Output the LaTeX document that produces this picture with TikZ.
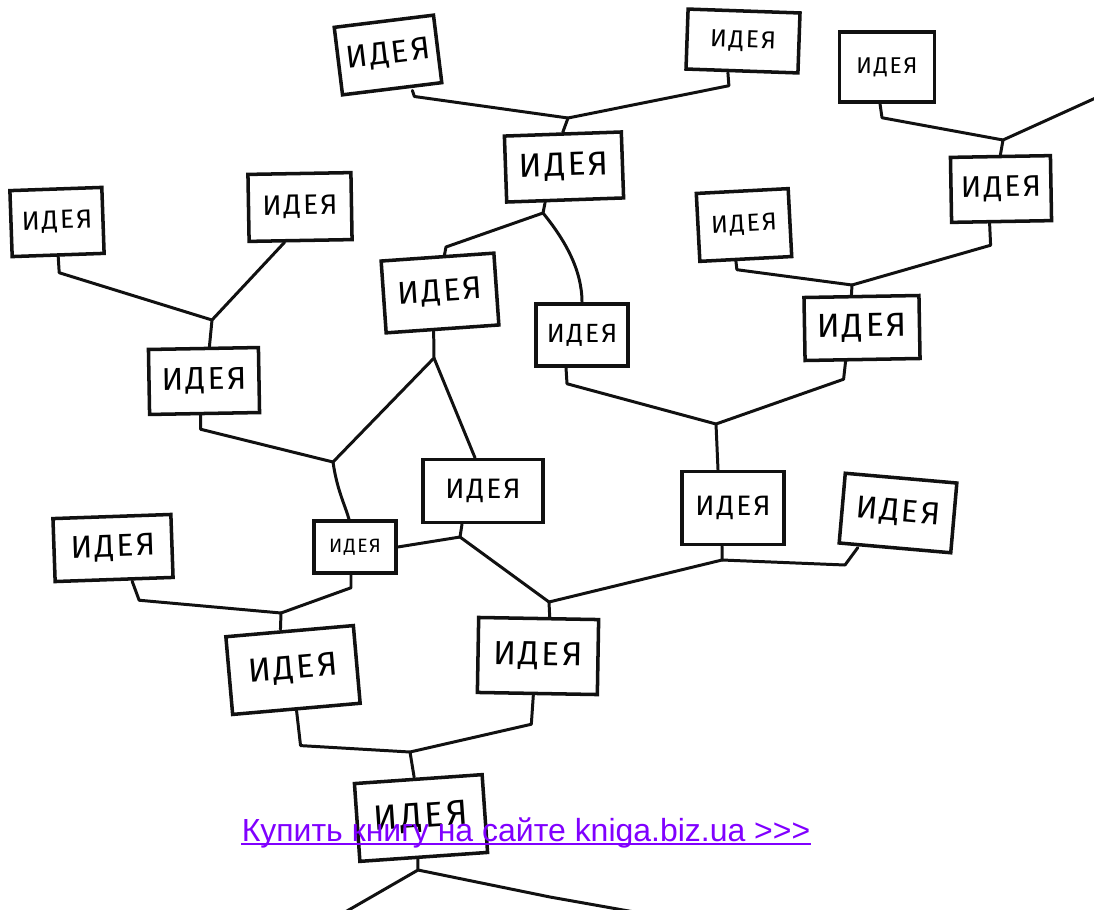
\documentclass[tikz,border=0pt]{standalone}
\usepackage{fontspec}
\usepackage{tikz}
\usetikzlibrary{calc}
\newfontfamily\ideafont[LetterSpace=8]{Fira Sans}
\newfontfamily\linkfont{Liberation Sans}
\definecolor{ink}{HTML}{111111}
\definecolor{linkviolet}{HTML}{8000FF}

\begin{document}
\begin{tikzpicture}[x=0.02cm,y=-0.02cm,
  box/.style={draw=ink,line width=2pt,inner sep=0pt,align=center,
    font=\ideafont\fontsize{#1}{#1}\selectfont},
  box/.default=17,
  wire/.style={draw=ink,line width=1.7pt,line join=round,line cap=round}]
  \useasboundingbox (0,0) rectangle (1094,909);

  % ideas, top rows
  \node[box=18,minimum width=2cm,minimum height=1.36cm,rotate=7] (top1) at (388,55) {ИДЕЯ};
  \node[box=14,minimum width=2.24cm,minimum height=1.2cm,rotate=-2] (top2) at (743,41) {ИДЕЯ};
  \node[box=13,minimum width=1.9cm,minimum height=1.4cm] (top3) at (887,67) {ИДЕЯ};
  \node[box=19,minimum width=2.34cm,minimum height=1.32cm,rotate=2] (hub) at (564,167) {ИДЕЯ};
  \node[box=17,minimum width=2cm,minimum height=1.3cm,rotate=1] (east) at (1001,189) {ИДЕЯ};
  \node[box=15,minimum width=1.84cm,minimum height=1.32cm,rotate=2] (topl1) at (57,222) {ИДЕЯ};
  \node[box=16,minimum width=2.06cm,minimum height=1.34cm,rotate=1] (topl2) at (300,207) {ИДЕЯ};
  \node[box=14,minimum width=1.84cm,minimum height=1.36cm,rotate=3] (topr) at (744,225) {ИДЕЯ};
  % ideas, middle rows
  \node[box=18,minimum width=2.26cm,minimum height=1.44cm,rotate=4] (centre) at (440,293) {ИДЕЯ};
  \node[box=15,minimum width=1.84cm,minimum height=1.24cm] (cright) at (582,335) {ИДЕЯ};
  \node[box=19,minimum width=2.3cm,minimum height=1.26cm,rotate=1] (right) at (862,328) {ИДЕЯ};
  \node[box=18,minimum width=2.2cm,minimum height=1.3cm,rotate=1] (leftc) at (204,381) {ИДЕЯ};
  \node[box=16,minimum width=2.4cm,minimum height=1.26cm] (midc) at (483,491) {ИДЕЯ};
  \node[box=11,minimum width=1.64cm,minimum height=1.04cm] (small) at (355,547) {ИДЕЯ};
  \node[box=18,minimum width=2.36cm,minimum height=1.26cm,rotate=2] (farl) at (113,548) {ИДЕЯ};
  \node[box=16,minimum width=2.04cm,minimum height=1.46cm] (midr) at (733,508) {ИДЕЯ};
  \node[box=18,minimum width=2.24cm,minimum height=1.4cm,rotate=-5] (farr) at (898,513) {ИДЕЯ};
  % ideas, bottom rows
  \node[box=19,minimum width=2.56cm,minimum height=1.56cm,rotate=5] (lowl) at (293,670) {ИДЕЯ};
  \node[box=19,minimum width=2.4cm,minimum height=1.5cm,rotate=-1] (lowr) at (538,656) {ИДЕЯ};
  \node[box=20,minimum width=2.56cm,minimum height=1.56cm,rotate=4] (root) at (421,818) {ИДЕЯ};

  % junctions
  \coordinate (j1) at (568,118);
  \coordinate (j2) at (1003,140);
  \coordinate (j3) at (543,213);
  \coordinate (j4) at (212,320);
  \coordinate (j5) at (852,285);
  \coordinate (j6) at (434,358);
  \coordinate (j7) at (333,462);
  \coordinate (j8) at (460,537);
  \coordinate (j9) at (549,602);
  \coordinate (j10) at (722,560);
  \coordinate (j11) at (281,613);
  \coordinate (j12) at (410,752);
  \coordinate (j13) at (418,870);
  \coordinate (j14) at (716,424);
  \coordinate (cutne) at (1100,96);
  \coordinate (cutsw) at (340,915);
  \coordinate (cutse) at (640,913);

  % branches
  \draw[wire] ($(top1.south)+(20,0)$) -- ++(2,6) -- (j1);
  \draw[wire] ($(top2.south)+(-14,0)$) -- ++(1,13) -- (j1) -- (hub.north);
  \draw[wire] ($(top3.south)+(-7,0)$) -- ++(2,14) -- (j2) -- (east.north);
  \draw[wire] (cutne) -- (j2);
  \draw[wire] ($(hub.south)+(-20,0)$) -- (j3) -- ++(-97,34) -- ($(centre.north)+(7,0)$);
  \draw[wire] (j3) .. controls (565,240) and (582,270) .. (cright.north);
  \draw[wire] (topl1.south) -- ++(1,16) -- (j4);
  \draw[wire] ($(topl2.south)+(-16,0)$) -- (j4) -- ($(leftc.north)+(6,0)$);
  \draw[wire] ($(topr.south)+(-10,0)$) -- ++(1,9) -- (j5);
  \draw[wire] ($(east.south)+(-12,0)$) -- ++(1,22) -- (j5) -- ($(right.north)+(-10,0)$);
  \draw[wire] ($(centre.south)+(-9,0)$) -- (j6) -- (j7);
  \draw[wire] (j6) -- ($(midc.north)+(-8,0)$);
  \draw[wire] ($(leftc.south)+(-4,0)$) -- ++(0,14) -- (j7)
    .. controls (337,490) and (345,505) .. ($(small.north)+(-6,0)$);
  \draw[wire] ($(cright.south)+(-16,0)$) -- ++(1,16) -- (j14);
  \draw[wire] ($(right.south)+(-17,0)$) -- ++(-2,18) -- (j14) -- ($(midr.north)+(-15,0)$);
  \draw[wire] ($(midc.south)+(-21,0)$) -- (j8) -- (small.east);
  \draw[wire] (j8) -- (j9);
  \draw[wire] ($(midr.south)+(-11,0)$) -- (j10) -- (j9) -- ($(lowr.north)+(11,0)$);
  \draw[wire] (j10) -- ++(123,5) -- ($(farr.south)+(-37,-2)$);
  \draw[wire] ($(farl.south)+(18,0)$) -- ++(7,19) -- (j11);
  \draw[wire] ($(small.south)+(-4,0)$) -- ++(0,13) -- (j11) -- ($(lowl.north)+(-9,0)$);
  \draw[wire] (lowl.south) -- ++(4,35) -- (j12);
  \draw[wire] ($(lowr.south)+(-4,0)$) -- ++(-2,29) -- (j12) -- ($(root.north)+(-4,0)$);
  \draw[wire] ($(root.south)+(-6,0)$) -- (j13) -- (cutsw);
  \draw[wire] (j13) -- ++(132,27) -- (cutse);

  % shop link
  \node[font=\linkfont\fontsize{18.2}{20}\selectfont,text=linkviolet,inner sep=0pt,anchor=base]
    (buy) at (526,841) {Купить книгу на сайте kniga.biz.ua >{}>{}>};
  \draw[linkviolet,line width=0.03cm] ($(buy.base west)+(0,3)$) -- ($(buy.base east)+(0,3)$);
\end{tikzpicture}
\end{document}
